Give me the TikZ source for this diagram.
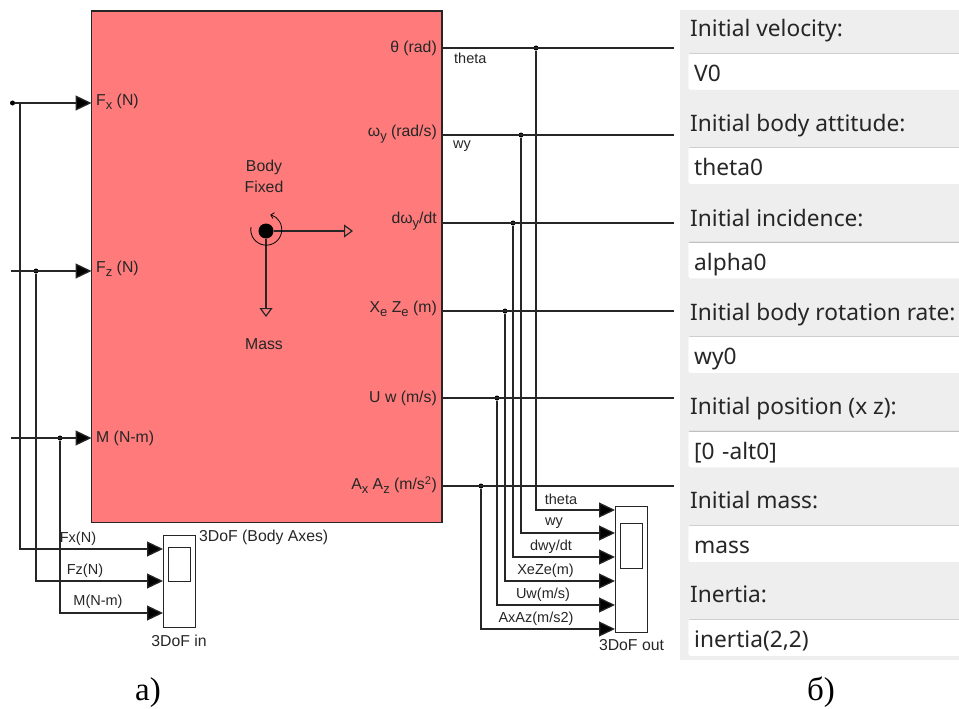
\documentclass[tikz,border=0pt]{standalone}
\usepackage{fontspec}
\setmainfont{Liberation Sans}
\newfontfamily\panelfont{Noto Sans}
\newfontfamily\capfont{Liberation Serif}
\usepackage{xcolor}
\usetikzlibrary{positioning,arrows.meta}
\definecolor{dofred}{HTML}{FF7B7B}
\definecolor{panelbg}{HTML}{EEEEEE}
\definecolor{simtext}{HTML}{262626}
\newcommand{\lowtxt}[1]{\raisebox{-4pt}{\fontsize{13}{13}\selectfont #1}}

\begin{document}
\begin{tikzpicture}[
    x=1pt, y=-1pt,
    block/.style={draw=black!85, line width=1.2pt, fill=dofred, anchor=north west, outer sep=0pt, minimum width=350.5pt, minimum height=511.5pt, inner sep=0pt},
    scopebox/.style={draw=black!85, line width=1pt, fill=white, anchor=north west, outer sep=0pt, inner sep=0pt},
    lbl/.style={font=\fontsize{15.8}{18}\selectfont, text=simtext, inner sep=0pt},
    sig/.style={font=\fontsize{14.5}{16}\selectfont, text=simtext, inner sep=0pt},
    wire/.style={draw=black!85, line width=1.3pt},
    arr/.style={wire, -{Triangle[length=16pt, width=15pt, fill=black]}},
    axis/.style={wire, line width=1.2pt, -{Triangle[open, length=9pt, width=13pt]}},
    dot/.style={circle, fill=black, inner sep=0pt, minimum size=5pt},
    panel/.style={fill=panelbg, anchor=north west, minimum width=279pt, minimum height=650pt, inner sep=0pt},
    plabel/.style={font=\panelfont\fontsize{22.7}{26}\selectfont, text=black!85, anchor=base west, inner sep=0pt},
    field/.style={fill=white, draw=black!8, rounded corners=1.5pt, anchor=north west, minimum width=280pt, text width=268pt, align=left, inner xsep=6pt, inner ysep=0pt, text height=28.5pt, text depth=8.5pt, font=\panelfont\fontsize{22.7}{26}\selectfont, text=black!85,
        path picture={\draw[black!25, line width=2pt] (path picture bounding box.north west) -- (path picture bounding box.north east);}}
]
    \useasboundingbox (0,0) rectangle (959,709);

    % Main block
    \node[block] (dof) at (91.5,11) {};
    \node[lbl, align=center] (bodyfixed) at (264,176.5) {Body\\[3pt]Fixed};
    \node[lbl] (masslbl) at (264,344) {Mass};
    \node[lbl, anchor=north west] (dofname) at (199,530) {3DoF (Body Axes)};

    % Body axes symbol
    \node[circle, fill=black, inner sep=0pt, minimum size=15pt] (cg) at (266,231) {};
    \coordinate (xtip) at (353,231);
    \coordinate (ztip) at (266,317);
    \draw[axis] (cg) -- (xtip);
    \draw[axis] (cg) -- (ztip);
    \draw[draw=black, line width=0.8pt, -{Straight Barb[length=3pt]}] (251,227) arc[start angle=190, end angle=-75, radius=15.5];

    % Input labels
    \node[lbl, anchor=west] (fxlbl) at (96,102) {F\lowtxt{x} (N)};
    \node[lbl, anchor=west] (fzlbl) at (96,269) {F\lowtxt{z} (N)};
    \node[lbl, anchor=west] (mlbl) at (96,438) {M (N-m)};

    % Output labels
    \node[lbl, anchor=east] (thetalbl) at (437,48) {θ (rad)};
    \node[lbl, anchor=east] (wylbl) at (437,134) {ω\lowtxt{y} (rad/s)};
    \node[lbl, anchor=east] (dwylbl) at (437,221) {dω\lowtxt{y}/dt};
    \node[lbl, anchor=east] (xzlbl) at (437,309) {X\lowtxt{e} Z\lowtxt{e} (m)};
    \node[lbl, anchor=east] (uwlbl) at (437,398) {U w (m/s)};
    \node[lbl, anchor=east] (axlbl) at (437,485) {A\lowtxt{x} A\lowtxt{z} (m/s\textsuperscript{2})};
    \node[sig, anchor=west] (thetasig) at (454,58) {theta};
    \node[sig, anchor=west] (wysig) at (453,146) {wy};

    % Scope of inputs
    \node[scopebox, minimum width=32pt, minimum height=92.5pt] (scopein) at (163,535) {};
    \node[scopebox, minimum width=22.5pt, minimum height=33.5pt] (screenin) at (168,547.5) {};
    \node[lbl, below=7pt of scopein] (scopeinlbl) {3DoF in};
    \node[sig] (fxin) at (78,539) {Fx(N)};
    \node[sig] (fzin) at (85,570.5) {Fz(N)};
    \node[sig] (min) at (98,602) {M(N-m)};

    % Input lines
    \node[dot] (fxstart) at (12.5,103) {};
    \coordinate (fzstart) at (11,271);
    \coordinate (mstart) at (11,438);
    \coordinate (fxport) at (91.5,103);
    \coordinate (fzport) at (91.5,271);
    \coordinate (mport) at (91.5,438);
    \coordinate (fxbranch) at (20,103);
    \node[dot] (fzbranch) at (36,271) {};
    \node[dot] (mbranch) at (60,438) {};
    \coordinate (fxscope) at (163,549);
    \coordinate (fzscope) at (163,581);
    \coordinate (mscope) at (163,613);

    \draw[arr] (fxstart) -- (fxport);
    \draw[arr] (fzstart) -- (fzport);
    \draw[arr] (mstart) -- (mport);
    \draw[arr] (fxbranch) |- (fxscope);
    \draw[arr] (fzbranch) |- (fzscope);
    \draw[arr] (mbranch) |- (mscope);

    % Scope of outputs
    \node[scopebox, minimum width=32pt, minimum height=126pt] (scopeout) at (615,506) {};
    \node[scopebox, minimum width=22.5pt, minimum height=45pt] (screenout) at (620,523.5) {};
    \node[lbl, anchor=north] (scopeoutlbl) at (631.5,639) {3DoF out};
    \node[sig] (thetaout) at (561,499) {theta};
    \node[sig] (wyout) at (554,523) {wy};
    \node[sig] (dwyout) at (551,547) {dwy/dt};
    \node[sig] (xzout) at (545.5,571) {XeZe(m)};
    \node[sig] (uwout) at (543,595) {Uw(m/s)};
    \node[sig] (axout) at (536,619) {AxAz(m/s2)};

    % Output lines
    \coordinate (thetaport) at (442,48);
    \coordinate (wyport) at (442,135);
    \coordinate (dwyport) at (442,223);
    \coordinate (xzport) at (442,311);
    \coordinate (uwport) at (442,398);
    \coordinate (axport) at (442,486);
    \coordinate (thetaend) at (674,48);
    \coordinate (wyend) at (674,135);
    \coordinate (dwyend) at (674,223);
    \coordinate (xzend) at (674,311);
    \coordinate (uwend) at (674,398);
    \coordinate (axend) at (674,486);
    \node[dot] (thetabranch) at (536,48) {};
    \node[dot] (wybranch) at (521,135) {};
    \node[dot] (dwybranch) at (513,223) {};
    \node[dot] (xzbranch) at (505,311) {};
    \node[dot] (uwbranch) at (497,398) {};
    \node[dot] (axbranch) at (481,486) {};
    \coordinate (thetascope) at (615,510);
    \coordinate (wyscope) at (615,533);
    \coordinate (dwyscope) at (615,557);
    \coordinate (xzscope) at (615,581);
    \coordinate (uwscope) at (615,605);
    \coordinate (axscope) at (615,629);

    \draw[wire] (thetaport) -- (thetaend);
    \draw[wire] (wyport) -- (wyend);
    \draw[wire] (dwyport) -- (dwyend);
    \draw[wire] (xzport) -- (xzend);
    \draw[wire] (uwport) -- (uwend);
    \draw[wire] (axport) -- (axend);
    \draw[arr] (thetabranch) |- (thetascope);
    \draw[arr] (wybranch) |- (wyscope);
    \draw[arr] (dwybranch) |- (dwyscope);
    \draw[arr] (xzbranch) |- (xzscope);
    \draw[arr] (uwbranch) |- (uwscope);
    \draw[arr] (axbranch) |- (axscope);

    % Parameter panel
    \node[panel] (params) at (680,10) {};
    \node[plabel] (vlabel) at (690,37) {Initial velocity:};
    \node[field] (vfield) at (688,53) {V0};
    \node[plabel] (thlabel) at (690,131.5) {Initial body attitude:};
    \node[field] (thfield) at (688,147) {theta0};
    \node[plabel] (alabel) at (690,226) {Initial incidence:};
    \node[field] (afield) at (688,241.5) {alpha0};
    \node[plabel] (wlabel) at (690,320) {Initial body rotation rate:};
    \node[field] (wfield) at (688,336) {wy0};
    \node[plabel] (plabelpos) at (690,414) {Initial position (x z):};
    \node[field] (pfield) at (688,430.5) {[0 -alt0]};
    \node[plabel] (mlabel) at (690,508.5) {Initial mass:};
    \node[field] (mfield) at (688,525) {mass};
    \node[plabel] (ilabel) at (690,602.5) {Inertia:};
    \node[field] (ifield) at (688,619) {inertia(2,2)};

    % Captions
    \node[font=\capfont\fontsize{33}{36}\selectfont, inner sep=0pt, anchor=base] (capa) at (148,700.5) {a)};
    \node[font=\capfont\fontsize{33}{36}\selectfont, inner sep=0pt, anchor=base] (capb) at (821,700.5) {б)};
\end{tikzpicture}
\end{document}
